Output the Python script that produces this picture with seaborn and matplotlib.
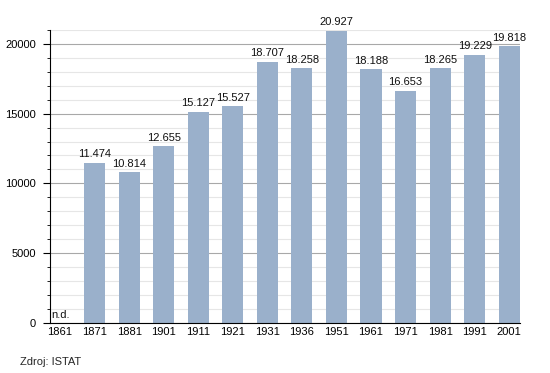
import matplotlib
matplotlib.use("Agg")
import matplotlib.pyplot as plt
import seaborn as sns
import pandas as pd
import numpy as np
from matplotlib.ticker import MultipleLocator

years = ["1861", "1871", "1881", "1901", "1911", "1921", "1931", "1936",
         "1951", "1961", "1971", "1981", "1991", "2001"]
population = [np.nan, 11474, 10814, 12655, 15127, 15527, 18707, 18258,
              20927, 18188, 16653, 18265, 19229, 19818]
labels = ["n.d.", "11.474", "10.814", "12.655", "15.127", "15.527", "18.707",
          "18.258", "20.927", "18.188", "16.653", "18.265", "19.229", "19.818"]

df = pd.DataFrame({"year": years, "pop": population})

sns.set_style("white")
plt.rcParams["font.family"] = ["Liberation Sans", "DejaVu Sans"]

fig = plt.figure(figsize=(5.5, 3.73), dpi=100)
ax = fig.add_axes([0.0909, 0.134, 0.8545, 0.786])

ax.set_ylim(0, 21000)
ax.yaxis.set_major_locator(MultipleLocator(5000))
ax.yaxis.set_minor_locator(MultipleLocator(1000))
ax.grid(axis="y", which="minor", color="#e6e6e6", linewidth=0.8, zorder=0)
ax.grid(axis="y", which="major", color="#a8a8a8", linewidth=0.8, zorder=0)
ax.set_axisbelow(True)

sns.barplot(data=df, x="year", y="pop", color="#9ab0cb", saturation=1,
            width=0.61, ax=ax, zorder=2, linewidth=0)

for i, (v, lab) in enumerate(zip(population, labels)):
    if np.isnan(v):
        ax.text(i - 0.25, 250, lab, ha="left", va="bottom", fontsize=8, color="#111111")
    else:
        ax.text(i, v + 250, lab, ha="center", va="bottom", fontsize=8, color="#111111")

ax.set_xlim(-0.29, len(years) - 1 + 0.31)
ax.set_xlabel("")
ax.set_ylabel("")
for s in ["top", "right"]:
    ax.spines[s].set_visible(False)
ax.spines["left"].set_color("black")
ax.spines["bottom"].set_color("black")
ax.spines["left"].set_linewidth(0.8)
ax.spines["bottom"].set_linewidth(0.8)

ax.tick_params(axis="y", which="major", direction="out", length=5, width=0.8,
               left=True, labelsize=8, pad=5, colors="black")
ax.tick_params(axis="y", which="minor", direction="out", length=2.5, width=0.6, left=True, colors="black")
ax.tick_params(axis="x", length=0, labelsize=8, pad=3, colors="black")

fig.text(0.036, 0.015, "Zdroj: ISTAT", fontsize=8, ha="left", va="bottom")

fig.savefig("out.png", dpi=100)
